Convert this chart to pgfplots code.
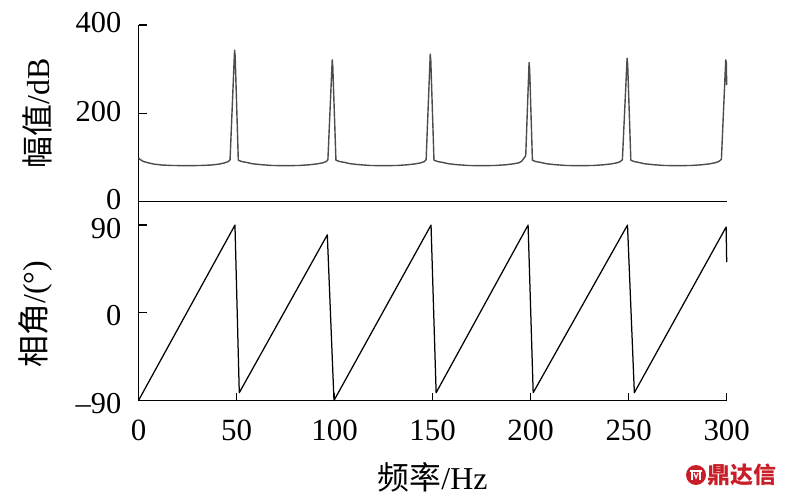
\documentclass[border=0pt]{standalone}
\usepackage{pgfplots}
\pgfplotsset{compat=1.18}
\usepackage{fontspec}
\setmainfont{Liberation Serif}
\newfontfamily\cjk{Noto Sans CJK SC}
\definecolor{wmred}{RGB}{200,30,40}

\pgfplotstableread{
x y
0 99
1 95
2.5 91
5 88
8 85
12 83
17 82
25 81.5
32 82
37 83
41 85
44 88
45.8 91
46.7 95
49.0 343
49.3 330
50.9 94
52.5 91
55 89
58 86
62 84
68 82
75 81.5
82 82
87 83.5
91 85.5
94 88
95.8 91
96.6 95
98.8 321
99.1 305
100.7 94
102.5 91
105 89
108 86
112 84
118 82
125 81.5
132 82
137 83.5
141 85.5
144 88
145.8 91
146.7 95
148.8 334
149.1 318
150.7 94
152.5 91
155 89
158 86
162 84
168 82
175 81.5
182 82
187 83.5
191 85.5
194 88
195.5 92
197.5 104
199.2 315
199.5 300
200.9 94
202.5 91
205 89
208 86
212 84
218 82
225 81.5
232 82
237 83.5
241 85.5
244 88
245.8 91
246.8 95
249.2 325
249.5 310
251.1 94
252.7 91
255 89
258 86
262 84
268 82
275 81.5
282 82
287 83.5
291 85.5
294 88
296 91
297.3 96
299.5 321
299.8 315
300 264
}\magdata

\pgfplotstableread{
x y
0 -90
49.2 90
51.4 -82
96.3 80
99.7 -90
149.2 90
151.8 -82
198.7 90
201.3 -82
249.4 90
252.9 -82
299.7 88
300 52
}\phasedata

\pgfplotsset{
  common/.style={
    scale only axis,
    width=588.2bp,
    xmin=0, xmax=300,
    axis x line=bottom, axis y line=left,
    axis line style={-, line width=1.2bp, black},
    tick align=inside,
    major tick length=8bp,
    tick style={line width=1.2bp, black},
    /pgf/number format/assume math mode=true,
    yticklabel style={font=\fontsize{30.5}{30.5}\selectfont, anchor=east, inner sep=0pt, xshift=-17bp},
    xticklabel style={font=\fontsize{31}{31}\selectfont, anchor=north, inner sep=0pt, yshift=-19.5bp},
    label style={font=\fontsize{32}{32}\selectfont},
    clip=false,
  }
}

\begin{document}
\begin{tikzpicture}
\useasboundingbox (0,0) rectangle (788bp,500bp);

\begin{axis}[common,
  at={(138.5bp,298.3bp)}, anchor=south west,
  height=176.7bp,
  ymin=0, ymax=400,
  xtick=\empty,
  ytick={0,200,400},
  yticklabel style={yshift=2bp},
  ylabel={{\cjk 幅值}/dB},
  ylabel style={at={(axis description cs:-0.1726,0.5)}, anchor=center},
]
\addplot[black!70, line width=1.4bp, line join=round] table[x=x,y=y] {\magdata};
\end{axis}

\begin{axis}[common,
  at={(138.5bp,99.5bp)}, anchor=south west,
  height=198.8bp,
  ymin=-90, ymax=114,
  xtick={0,50,100,150,200,250,300},
  ytick={-90,0,90},
  yticklabels={{–90},{0},{90}},
  yticklabel style={yshift=-3bp},
  ylabel={{\cjk 相角}/(°)},
  ylabel style={at={(axis description cs:-0.175,0.435)}, anchor=center},
  xlabel={{\cjk 频率}/Hz},
  xlabel style={at={(axis description cs:0.5,-0.385)}, anchor=center},
]
\addplot[black, line width=1.25bp, line join=round] table[x=x,y=y] {\phasedata};
\end{axis}

% watermark
\fill[wmred] (696bp,25bp) circle (10bp);
\draw[white, line width=1.3bp] (690bp,29bp) -- (702bp,29bp);
\draw[white, line width=1.3bp] (692bp,29bp) -- (692bp,20bp) (700bp,29bp) -- (700bp,20bp);
\draw[white, line width=1.2bp] (694bp,27bp) -- (696bp,22bp) -- (698bp,27bp);
\node[anchor=west, inner sep=0pt, text=wmred] at (707bp,25bp) {\cjk\bfseries\fontsize{23}{23}\selectfont 鼎达信};
\end{tikzpicture}
\end{document}
